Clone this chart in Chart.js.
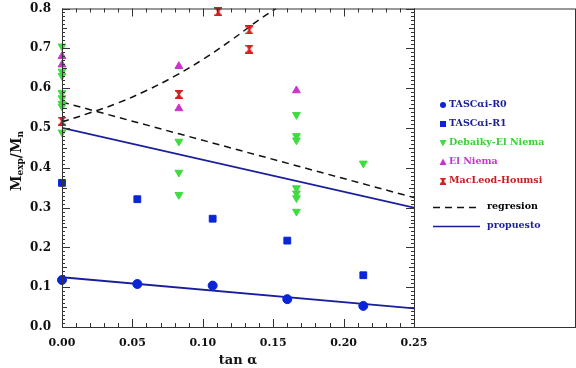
<!DOCTYPE html>
<html>
<head>
<meta charset="utf-8">
<script src="https://cdn.jsdelivr.net/npm/chart.js@4"></script>
<style>
  body { margin: 0; background: #fff; }
  #wrap { width: 576px; height: 368px; }
</style>
</head>
<body>
<div id="wrap"><canvas id="chart" width="576" height="368"></canvas></div>
<script>
// data
const r0X = [0, 0.0535, 0.107, 0.160, 0.214];
const r0Y = [0.118, 0.108, 0.104, 0.070, 0.053];

const r1X = [0, 0.0535, 0.107, 0.160, 0.214];
const r1Y = [0.362, 0.321, 0.272, 0.217, 0.130];

const debX = [0, 0, 0, 0, 0, 0, 0, 0,
  0.083, 0.083, 0.083,
  0.1665, 0.1665, 0.1665, 0.1665, 0.1665, 0.1665, 0.1665,
  0.214];
const debY = [0.705, 0.642, 0.631, 0.588, 0.575, 0.561, 0.554, 0.489,
  0.466, 0.388, 0.332,
  0.533, 0.480, 0.469, 0.349, 0.336, 0.324, 0.290,
  0.411];

const elnX = [0, 0, 0.083, 0.083, 0.1665];
const elnY = [0.680, 0.659, 0.655, 0.549, 0.594];

const macX = [0, 0.083, 0.111, 0.133, 0.133];
const macY = [0.517, 0.584, 0.792, 0.746, 0.698];

// regression curves (dashed)
const regCurveX = [0, 0.02, 0.04, 0.06, 0.08, 0.10, 0.12, 0.14, 0.152];
const regCurveY = [0.515, 0.538, 0.563, 0.594, 0.630, 0.672, 0.720, 0.772, 0.800];
const regLineX = [0, 0.25];
const regLineY = [0.565, 0.325];

// proposed lines (solid)
const propX = [0, 0.25];
const propUpperY = [0.500, 0.300];
const propLowerY = [0.125, 0.047];

const xTicks = [0, 0.05, 0.10, 0.15, 0.20, 0.25];
const yTicks = [0, 0.1, 0.2, 0.3, 0.4, 0.5, 0.6, 0.7, 0.8];

const BLUE = '#0a24d8';
const NAVY = '#1a1e9c';
const GREEN = '#3fdc3f';
const MAGENTA = '#cc33cc';
const RED = '#d42020';
const SERIF = '"DejaVu Serif", serif';

function pts(xs, ys) {
  return xs.map((x, i) => ({ x: x, y: ys[i] }));
}

// hourglass marker for MacLeod-Houmsi
function hourglass(w, h, color) {
  const c = document.createElement('canvas');
  c.width = w; c.height = h;
  const g = c.getContext('2d');
  g.fillStyle = color;
  g.beginPath();
  g.moveTo(0, 0); g.lineTo(w, 0); g.lineTo(w / 2 + 1, h / 2);
  g.lineTo(w, h); g.lineTo(0, h); g.lineTo(w / 2 - 1, h / 2);
  g.closePath();
  g.fill();
  g.fillRect(0, 0, w, 1.5);
  g.fillRect(0, h - 1.5, w, 1.5);
  return c;
}
const hgPoint = hourglass(8, 9, RED);
const hgLegend = hourglass(6, 7, RED);

const datasets = [
  { label: 'TASCαi-R0', data: pts(r0X, r0Y), pointStyle: 'circle', pointRadius: 4.5, clip: false,
    backgroundColor: BLUE, borderColor: BLUE, showLine: false, order: 0, textColor: NAVY },
  { label: 'TASCαi-R1', data: pts(r1X, r1Y), pointStyle: 'rect', pointRadius: 4.8, clip: false,
    backgroundColor: BLUE, borderColor: BLUE, showLine: false, order: 0, textColor: NAVY },
  { label: 'Debaiky-El Niema', data: pts(debX, debY), pointStyle: 'triangle', rotation: 180, pointRadius: 4.5, clip: false,
    backgroundColor: GREEN, borderColor: GREEN, showLine: false, order: 0, textColor: '#3ccc3c' },
  { label: 'El Niema', data: pts(elnX, elnY), pointStyle: 'triangle', pointRadius: 4.5, clip: false,
    backgroundColor: MAGENTA, borderColor: MAGENTA, showLine: false, order: 0, textColor: MAGENTA },
  { label: 'MacLeod-Houmsi', data: pts(macX, macY), pointStyle: hgPoint, clip: false,
    backgroundColor: RED, borderColor: RED, showLine: false, order: 0, textColor: '#c42020' },
  { label: 'regresion', data: pts(regLineX, regLineY), showLine: true, borderColor: '#111',
    borderWidth: 1.5, borderDash: [7, 5], pointRadius: 0, order: 1, textColor: '#000' },
  { label: 'regresion-curve', data: pts(regCurveX, regCurveY), showLine: true, borderColor: '#111',
    borderWidth: 1.5, borderDash: [7, 5], pointRadius: 0, tension: 0.4, order: 1, noLegend: true },
  { label: 'propuesto', data: pts(propX, propUpperY), showLine: true, borderColor: NAVY,
    borderWidth: 1.8, pointRadius: 0, order: 1, textColor: NAVY },
  { label: 'propuesto-low', data: pts(propX, propLowerY), showLine: true, borderColor: NAVY,
    borderWidth: 1.8, pointRadius: 0, order: 1, noLegend: true }
];

// frame, inside ticks, y label and legend box
const framePlugin = {
  id: 'frame',
  afterDraw(chart) {
    const ctx = chart.ctx;
    const a = chart.chartArea;
    const xs = chart.scales.x, ys = chart.scales.y;
    const boxRight = 575;
    ctx.save();
    ctx.strokeStyle = '#333';
    ctx.lineWidth = 1;
    ctx.strokeRect(a.left + 0.5, a.top + 0.5, boxRight - a.left, a.bottom - a.top);
    ctx.beginPath();
    ctx.moveTo(a.right + 0.5, a.top); ctx.lineTo(a.right + 0.5, a.bottom);
    ctx.stroke();

    // x ticks every 0.01, major every 0.05
    ctx.beginPath();
    for (let i = 0; i <= 25; i++) {
      const px = Math.round(xs.getPixelForValue(i / 100)) + 0.5;
      const len = i % 5 === 0 ? 8 : 4;
      ctx.moveTo(px, a.bottom); ctx.lineTo(px, a.bottom - len);
      ctx.moveTo(px, a.top); ctx.lineTo(px, a.top + len);
    }
    // y ticks every 0.01, major every 0.1
    for (let i = 0; i <= 80; i++) {
      const py = Math.round(ys.getPixelForValue(i / 100)) + 0.5;
      const len = i % 10 === 0 ? 8 : (i % 5 === 0 ? 5 : 3);
      ctx.moveTo(a.left, py); ctx.lineTo(a.left + len, py);
      ctx.moveTo(a.right, py); ctx.lineTo(a.right - len, py);
    }
    ctx.stroke();

    // y axis title M_exp / M_n
    ctx.translate(17, 161);
    ctx.rotate(-Math.PI / 2);
    ctx.fillStyle = '#111';
    const big = 'bold 14px ' + SERIF, small = 'bold 9px ' + SERIF;
    const parts = [['M', big, 0], ['exp', small, 4], ['/', big, 0], ['M', big, 0], ['n', small, 4]];
    let total = 0;
    parts.forEach(p => { ctx.font = p[1]; total += ctx.measureText(p[0]).width; });
    let cx = -total / 2;
    ctx.textBaseline = 'middle';
    parts.forEach(p => {
      ctx.font = p[1];
      ctx.fillText(p[0], cx, p[2]);
      cx += ctx.measureText(p[0]).width;
    });
    ctx.restore();

    // legend
    ctx.save();
    ctx.font = 'bold 9.5px ' + SERIF;
    ctx.textBaseline = 'middle';
    let y = 105;
    chart.data.datasets.forEach(ds => {
      if (ds.noLegend) return;
      if (!ds.showLine) {
        const mx = 443;
        ctx.fillStyle = ds.backgroundColor;
        ctx.beginPath();
        if (ds.pointStyle === 'circle') {
          ctx.arc(mx, y, 3, 0, Math.PI * 2); ctx.fill();
        } else if (ds.pointStyle === 'rect') {
          ctx.fillRect(mx - 3, y - 3, 6, 6);
        } else if (ds.pointStyle === 'triangle') {
          const d = ds.rotation === 180 ? 1 : -1;
          ctx.moveTo(mx - 3.5, y - 3 * d); ctx.lineTo(mx + 3.5, y - 3 * d); ctx.lineTo(mx, y + 3.5 * d);
          ctx.closePath(); ctx.fill();
        } else {
          ctx.drawImage(hgLegend, mx - 3, y - 3.5);
        }
        ctx.fillStyle = ds.textColor;
        ctx.fillText(ds.label, 449, y);
        y += 19;
      } else {
        if (ds.label === 'regresion') y += 7;
        ctx.strokeStyle = ds.borderColor;
        ctx.lineWidth = 1.5;
        ctx.setLineDash(ds.borderDash || []);
        ctx.beginPath();
        ctx.moveTo(433, y + 0.5); ctx.lineTo(480, y + 0.5);
        ctx.stroke();
        ctx.setLineDash([]);
        ctx.fillStyle = ds.textColor;
        ctx.fillText(ds.label, 487, y);
        y += 19;
      }
    });
    ctx.restore();
  }
};

new Chart(document.getElementById('chart'), {
  type: 'scatter',
  data: { datasets: datasets },
  options: {
    responsive: false,
    animation: false,
    devicePixelRatio: 1,
    layout: { padding: { top: 0, right: 162, left: 0, bottom: 0 } },
    plugins: { legend: { display: false }, tooltip: { enabled: false } },
    scales: {
      x: {
        type: 'linear', min: 0, max: 0.25,
        afterFit(scale) { scale.height = 41; },
        afterBuildTicks(scale) { scale.ticks = xTicks.map(v => ({ value: v })); },
        grid: { display: false, drawTicks: false },
        border: { display: false },
        ticks: {
          padding: 10, color: '#111',
          font: { family: SERIF, weight: 'bold', size: 11 },
          callback: v => v.toFixed(2)
        },
        title: {
          display: true, text: 'tan α', color: '#111',
          font: { family: SERIF, weight: 'bold', size: 13 },
          padding: { top: 0, bottom: 0 }
        }
      },
      y: {
        type: 'linear', min: 0, max: 0.8,
        afterFit(scale) { scale.width = 62; scale.paddingTop = 8.5; },
        afterBuildTicks(scale) { scale.ticks = yTicks.map(v => ({ value: v })); },
        grid: { display: false, drawTicks: false },
        border: { display: false },
        ticks: {
          padding: 11, color: '#111',
          font: { family: SERIF, weight: 'bold', size: 12 },
          callback: v => v.toFixed(1)
        }
      }
    }
  },
  plugins: [framePlugin]
});
</script>
</body>
</html>
